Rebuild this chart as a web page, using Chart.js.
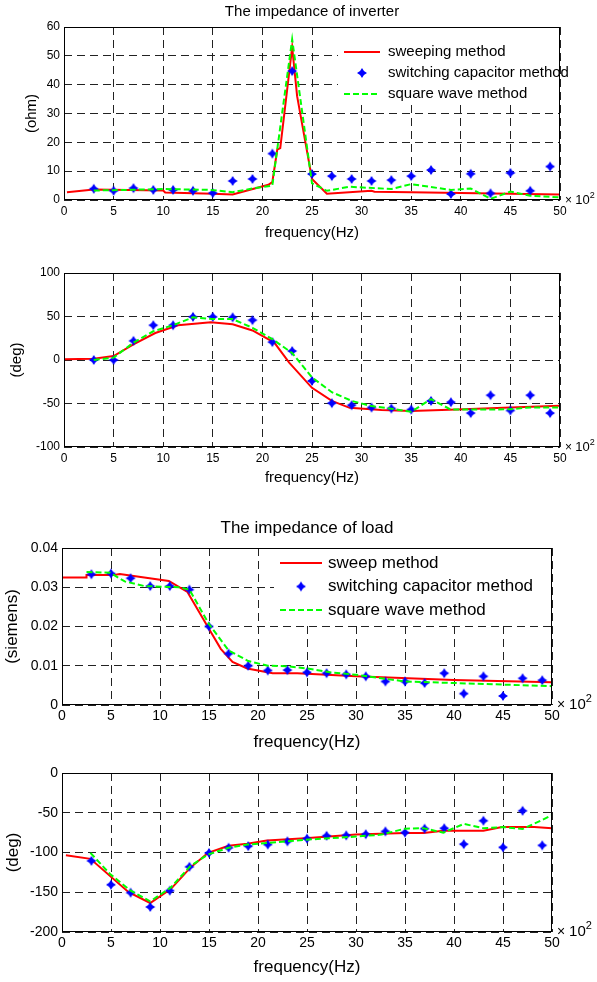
<!DOCTYPE html>
<html>
<head>
<meta charset="utf-8">
<script src="https://cdn.jsdelivr.net/npm/chart.js@4.4.0/dist/chart.umd.min.js"></script>
<style>
  html, body { margin: 0; padding: 0; background: #fff; }
  body { width: 597px; height: 982px; position: relative; overflow: hidden; }
  canvas { position: absolute; left: 0; }
</style>
</head>
<body>
<canvas id="invMag" width="597" height="245" style="top:0px"></canvas>
<canvas id="invPh" width="597" height="255" style="top:245px"></canvas>
<canvas id="loadMag" width="597" height="255" style="top:500px"></canvas>
<canvas id="loadPh" width="597" height="227" style="top:755px"></canvas>
<script>
// frequency in units of 100 Hz
var capFreq = [3, 5, 7, 9, 11, 13, 15, 17, 19, 21, 23, 25, 27, 29, 31, 33, 35, 37, 39, 41, 43, 45, 47, 49];

// inverter magnitude (ohm)
var invMagSweepF = [0.3, 3, 10, 10.2, 15, 17, 20.6, 21, 21.5, 21.8, 23, 23.5, 25, 26.5, 31, 31.3, 35, 40, 45, 50];
var invMagSweep = [2.7, 3.6, 3.3, 2.6, 2.2, 1.9, 5.3, 6.2, 17.5, 18, 53, 36, 7.3, 2.2, 3.2, 2.9, 2.7, 2.4, 2.2, 1.9];
var invMagSquareF = [3, 5, 10, 14.8, 17, 19, 21, 23, 25, 26.5, 28.8, 33, 35, 39, 41, 43, 45, 47, 50];
var invMagSquare = [3.3, 3.4, 3.8, 3.5, 2.7, 4.0, 5.0, 55.7, 5.8, 3.2, 4.6, 3.8, 5.5, 3.5, 4.0, 0.4, 2.9, 1.5, 0.9];
var invMagCap = [3.9, 3.2, 4.1, 3.5, 3.5, 3.2, 2.4, 6.6, 7.3, 16.1, 44.7, 9.0, 8.3, 7.3, 6.6, 6.9, 8.3, 10.4, 2.1, 9.1, 2.3, 9.4, 3.2, 11.6];

// inverter phase (deg)
var invPhSweepF = [0, 3, 5, 7, 9.2, 11.5, 14.8, 17, 19, 21.2, 22.7, 25, 27, 28.8, 32, 35, 39.6, 45, 50];
var invPhSweep = [1, 1.5, 4.5, 18, 31, 40, 43.5, 41, 34, 20, -3, -32, -47, -55, -57.5, -58.5, -57, -54.5, -52.5];
var invPhSquareF = [3, 5, 7, 9, 11, 13, 15, 17, 19, 21, 23, 25, 27, 29, 31, 33, 35, 37, 39, 41, 43, 45, 47, 50];
var invPhSquare = [0, 2.7, 20, 33, 40, 49, 47, 47, 37, 24, 8, -20, -37, -47, -53, -56, -59.5, -45, -57, -57, -57, -56.5, -54.5, -54.5];
var invPhCap = [0, 0, 22, 40, 40, 49.6, 49.6, 49, 45.8, 20.6, 10.3, -24, -49.6, -52, -54.6, -55.7, -57, -47, -48.5, -61, -40.5, -58, -40.5, -61];

// load magnitude (siemens)
var loadMagSweepF = [0, 2.5, 2.5, 5.3, 5.9, 10.9, 12.8, 14.9, 16.2, 17.4, 18.9, 21.5, 24, 30, 40, 50];
var loadMagSweep = [0.0325, 0.0325, 0.0331, 0.0331, 0.0334, 0.0316, 0.0288, 0.0198, 0.0143, 0.011, 0.0093, 0.0081, 0.0081, 0.0073, 0.0064, 0.0058];
var loadMagSquareF = [2.5, 4.9, 6.4, 8.4, 11.9, 13, 15, 17, 19, 21, 22.8, 25, 27.5, 30, 35, 40, 45, 50];
var loadMagSquare = [0.0339, 0.0337, 0.0315, 0.0303, 0.030, 0.0294, 0.0206, 0.0139, 0.0112, 0.0100, 0.0099, 0.0093, 0.0083, 0.0077, 0.0060, 0.0056, 0.0052, 0.0048];
var loadMagCap = [0.0333, 0.0335, 0.0323, 0.0303, 0.0303, 0.0294, 0.020, 0.0131, 0.010, 0.0088, 0.0089, 0.0083, 0.0081, 0.0078, 0.0073, 0.006, 0.006, 0.0056, 0.0081, 0.0029, 0.0073, 0.0023, 0.0068, 0.0063];

// load phase (deg)
var loadPhSweepF = [0.4, 2.9, 6.8, 9, 11.1, 13.1, 14.9, 17, 18.9, 20.9, 24.8, 30, 35, 36.9, 38.9, 43, 44.9, 48.2, 50];
var loadPhSweep = [-103.5, -108, -150, -163.5, -146, -119, -100.5, -91.5, -89, -85, -82, -77.5, -75.5, -75.5, -72.5, -72.5, -68, -68, -69.5];
var loadPhSquareF = [2.9, 4.9, 7, 9, 11.1, 13.1, 14.9, 17, 18.9, 20.9, 24.8, 30, 32.6, 35, 36.9, 38.9, 41, 43, 45, 47, 49, 50];
var loadPhSquare = [-100.5, -127, -148, -161.5, -144, -117, -102.5, -94, -90, -88, -84, -80, -77.5, -70, -69.5, -75, -64, -69.5, -68, -70.5, -59, -53];
var loadPhCap = [-110.5, -140.5, -150.5, -168.5, -148, -118, -100.5, -94, -92, -90, -86, -82.5, -79, -78.5, -77, -73.5, -75, -70, -69.5, -89.5, -60, -93.5, -47.5, -91];

var FONT = 'Liberation Sans, Arial, Helvetica, sans-serif';
Chart.defaults.font.family = FONT;
Chart.defaults.color = '#000';

function pts(xs, ys) {
  return xs.map(function (x, i) { return { x: x, y: ys[i] }; });
}

// blue four-point star marker
function makeStar(r) {
  var c = document.createElement('canvas');
  var s = Math.ceil(r * 2) + 2;
  c.width = s; c.height = s;
  var g = c.getContext('2d');
  var m = s / 2;
  g.fillStyle = '#0000ff';
  g.beginPath();
  for (var k = 0; k < 8; k++) {
    var a = k * Math.PI / 4 - Math.PI / 2;
    var rr = k % 2 === 0 ? r : r * 0.55;
    g.lineTo(m + rr * Math.cos(a), m + rr * Math.sin(a));
  }
  g.closePath();
  g.fill();
  return c;
}
var star = makeStar(5);

var extras = {
  id: 'extras',
  afterDraw: function (chart) {
    var o = chart.options.plugins.extras;
    var a = chart.chartArea;
    var g = chart.ctx;
    g.save();
    // title
    if (o.title) {
      g.fillStyle = '#000';
      g.font = o.titleSize + 'px ' + FONT;
      g.textAlign = 'center';
      g.textBaseline = 'middle';
      g.fillText(o.title, (a.left + a.right) / 2, o.titleY);
    }
    // legend background
    var L = o.legend;
    if (L) {
      g.fillStyle = '#fff';
      g.fillRect(L.x - 6, a.top + 1, a.right - L.x + 5, L.h);
    }
    // axes box
    g.strokeStyle = '#000';
    g.lineWidth = 1;
    g.strokeRect(Math.round(a.left) + 0.5, Math.round(a.top) + 0.5,
      Math.round(a.right - a.left) - 1, Math.round(a.bottom - a.top) - 1);
    // x 10^2 exponent label
    g.fillStyle = '#000';
    g.textAlign = 'left';
    g.textBaseline = 'alphabetic';
    g.font = o.tickSize + 'px ' + FONT;
    var bx = a.right + 5, by = a.bottom + 4;
    g.fillText('\u00d7', bx, by);
    var wx = g.measureText('\u00d7 ').width;
    g.font = (o.tickSize + 1) + 'px ' + FONT;
    g.fillText('10', bx + wx, by);
    var w10 = g.measureText('10').width;
    g.font = Math.round(o.tickSize * 0.75) + 'px ' + FONT;
    g.fillText('2', bx + wx + w10, by - o.tickSize * 0.5);
    // legend entries
    if (L) {
      g.font = L.size + 'px ' + FONT;
      g.textBaseline = 'middle';
      chart.data.datasets.forEach(function (ds, i) {
        var y = L.y + i * L.dy;
        if (ds.showLine === false) {
          g.drawImage(star, L.x + L.w / 2 - star.width / 2, y - star.height / 2);
        } else {
          g.strokeStyle = ds.borderColor;
          g.lineWidth = ds.borderWidth;
          g.setLineDash(ds.borderDash || []);
          g.beginPath();
          g.moveTo(L.x, y);
          g.lineTo(L.x + L.w, y);
          g.stroke();
          g.setLineDash([]);
        }
        g.fillStyle = '#000';
        g.fillText(ds.label, L.x + L.w + L.gap, y);
      });
    }
    g.restore();
  }
};

function buildChart(id, o) {
  var tickFont = { family: FONT, size: o.tickSize };
  var labelFont = { family: FONT, size: o.labelSize };
  var gridOpts = { color: '#222', lineWidth: 1, drawTicks: false, borderDash: [8, 5] };
  return new Chart(document.getElementById(id), {
    type: 'line',
    data: {
      datasets: [
        { label: o.names[0], data: pts(o.sweepF, o.sweep), borderColor: '#ff0000', borderWidth: 2,
          pointRadius: 0, tension: 0, order: 3 },
        { label: o.names[1], data: pts(capFreq, o.cap), showLine: false, pointStyle: star,
          pointRadius: 5, borderColor: '#0000ff', backgroundColor: '#0000ff', order: 2 },
        { label: o.names[2], data: pts(o.squareF, o.square), borderColor: '#00ff00', borderWidth: 2,
          borderDash: [6, 3], pointRadius: 0, tension: 0, order: 1 }
      ]
    },
    options: {
      responsive: false,
      animation: false,
      events: [],
      layout: { padding: { top: o.padTop, right: o.padRight, left: 0, bottom: 0 } },
      plugins: {
        legend: { display: false },
        tooltip: { enabled: false },
        extras: {
          title: o.title, titleY: o.titleY, titleSize: o.labelSize,
          tickSize: o.tickSize, legend: o.legend
        }
      },
      scales: {
        x: {
          type: 'linear', min: 0, max: 50,
          ticks: { stepSize: 5, font: tickFont, padding: o.xTickPad, maxRotation: 0, autoSkip: false },
          grid: gridOpts,
          border: { display: false, dash: [8, 5] },
          title: { display: true, text: 'frequency(Hz)', font: labelFont, padding: { top: 0, bottom: o.xTitlePad } },
          afterFit: function (s) { s.height = o.xAxisH; }
        },
        y: {
          min: o.yMin, max: o.yMax,
          ticks: {
            stepSize: o.yStep, font: tickFont, padding: 4,
            callback: function (v) { return String(Math.round(v * 1000) / 1000); }
          },
          grid: gridOpts,
          border: { display: false, dash: [8, 5] },
          title: { display: true, text: o.yLabel, font: labelFont, padding: { top: o.yTitlePad, bottom: 0 } },
          afterFit: function (s) { s.width = o.yAxisW; }
        }
      }
    },
    plugins: [extras]
  });
}

var invNames = ['sweeping method', 'switching capacitor method', 'square wave method'];
var loadNames = ['sweep method', 'switching capacitor method', 'square wave method'];

buildChart('invMag', {
  names: invNames, sweepF: invMagSweepF, sweep: invMagSweep, squareF: invMagSquareF, square: invMagSquare, cap: invMagCap,
  yMin: 0, yMax: 60, yStep: 10, yLabel: '(ohm)',
  title: 'The impedance of inverter', titleY: 12,
  tickSize: 12, labelSize: 15,
  padTop: 27, padRight: 37, yAxisW: 64, xAxisH: 45, xTickPad: 4, xTitlePad: 3, yTitlePad: 23,
  legend: { x: 344, y: 52, dy: 21, w: 36, gap: 8, size: 15, h: 76 }
});

buildChart('invPh', {
  names: invNames, sweepF: invPhSweepF, sweep: invPhSweep, squareF: invPhSquareF, square: invPhSquare, cap: invPhCap,
  yMin: -100, yMax: 100, yStep: 50, yLabel: '(deg)',
  tickSize: 12, labelSize: 15,
  padTop: 28, padRight: 37, yAxisW: 64, xAxisH: 53, xTickPad: 4, xTitlePad: 13, yTitlePad: 8
});

buildChart('loadMag', {
  names: loadNames, sweepF: loadMagSweepF, sweep: loadMagSweep, squareF: loadMagSquareF, square: loadMagSquare, cap: loadMagCap,
  yMin: 0, yMax: 0.04, yStep: 0.01, yLabel: '(siemens)',
  title: 'The impedance of load', titleY: 28,
  tickSize: 14, labelSize: 17,
  padTop: 48, padRight: 45, yAxisW: 62, xAxisH: 50, xTickPad: 3, xTitlePad: 2.8, yTitlePad: 1.8,
  legend: { x: 280, y: 63, dy: 23.5, w: 42, gap: 6, size: 17, h: 72 }
});

buildChart('loadPh', {
  names: loadNames, sweepF: loadPhSweepF, sweep: loadPhSweep, squareF: loadPhSquareF, square: loadPhSquare, cap: loadPhCap,
  yMin: -200, yMax: 0, yStep: 50, yLabel: '(deg)',
  tickSize: 14, labelSize: 17,
  padTop: 18, padRight: 45, yAxisW: 62, xAxisH: 50, xTickPad: 3, xTitlePad: 4.8, yTitlePad: 2.8
});
</script>
</body>
</html>
